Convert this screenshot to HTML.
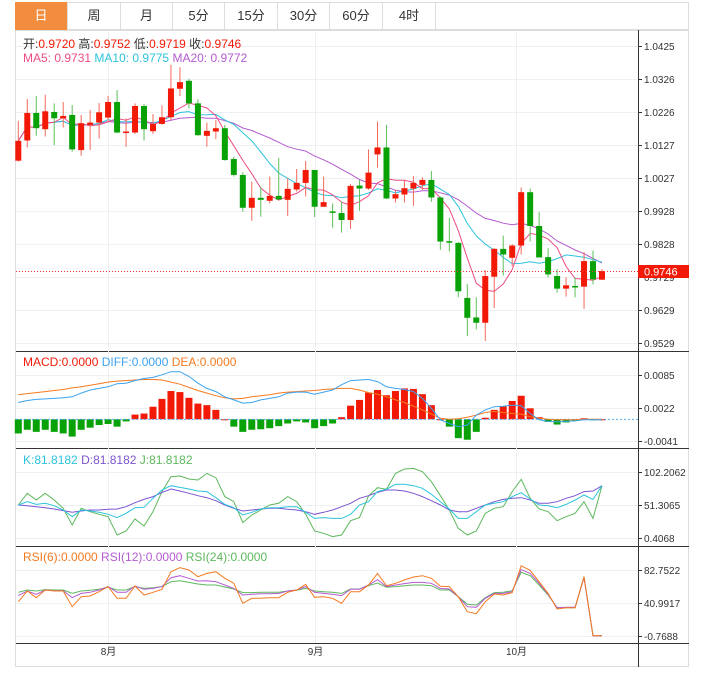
<!DOCTYPE html>
<html><head><meta charset="utf-8"><style>
body{margin:0;background:#fff;font-family:"Liberation Sans","Noto Sans CJK SC",sans-serif;}
#wrap{position:relative;width:702px;height:674px;overflow:hidden;}
.tab{position:absolute;top:2px;height:28px;line-height:28px;text-align:center;font-size:13px;color:#333;border-right:1px solid #ddd;box-sizing:border-box;cursor:pointer}
svg text{font-family:"Liberation Sans","Noto Sans CJK SC",sans-serif;}
</style></head><body>
<div id="wrap">
<div style="position:absolute;left:15px;top:2px;width:674px;height:28px;border:1px solid #ddd;box-sizing:border-box"></div>
<div class="tab" style="left:15px;width:53px;background:#F28C3F;color:#fff">日</div>
<div class="tab" style="left:68px;width:53px">周</div>
<div class="tab" style="left:121px;width:52px">月</div>
<div class="tab" style="left:173px;width:52px">5分</div>
<div class="tab" style="left:225px;width:53px">15分</div>
<div class="tab" style="left:278px;width:52px">30分</div>
<div class="tab" style="left:330px;width:53px">60分</div>
<div class="tab" style="left:383px;width:53px">4时</div>
<svg id="svg" width="702" height="674" style="position:absolute;left:0;top:0"></svg>
</div>
<script>
const opens=[1.0079,1.0140,1.0223,1.0174,1.0226,1.0207,1.0217,1.0111,1.0187,1.0194,1.0209,1.0256,1.0163,1.0164,1.0244,1.0168,1.0190,1.0210,1.0296,1.0320,1.0252,1.0154,1.0167,1.0177,1.0084,1.0036,0.9937,0.9967,0.9958,0.9973,0.9961,0.9992,1.0012,1.0051,0.9940,0.9926,0.9921,0.9900,1.0004,0.9995,1.0098,1.0119,0.9965,0.9977,0.9995,1.0006,1.0021,0.9968,0.9836,0.9831,0.9665,0.9606,0.9590,0.9729,0.9813,0.9786,0.9823,0.9984,0.9882,0.9788,0.9731,0.9693,0.9701,0.9699,0.9776,0.9720];
const highs=[1.0199,1.0265,1.0274,1.0278,1.0252,1.0256,1.0247,1.0217,1.0232,1.0253,1.0274,1.0292,1.0207,1.0252,1.0250,1.0220,1.0246,1.0368,1.0361,1.0326,1.0264,1.0194,1.0202,1.0187,1.0091,1.0044,1.0016,1.0001,1.0031,1.0088,1.0026,1.0054,1.0078,1.0051,1.0031,0.9950,0.9955,1.0009,1.0021,1.0113,1.0197,1.0187,0.9991,1.0019,1.0033,1.0029,1.0048,0.9971,0.9907,0.9833,0.9707,0.9667,0.9749,0.9815,0.9853,0.9827,0.9998,0.9995,0.9924,0.9815,0.9752,0.9727,0.9727,0.9803,0.9808,0.9752];
const lows=[1.0076,1.0119,1.0154,1.0152,1.0126,1.0179,1.0106,1.0094,1.0111,1.0146,1.0197,1.0162,1.0121,1.0160,1.0140,1.0160,1.0187,1.0202,1.0274,1.0237,1.0154,1.0121,1.0144,1.0079,1.0031,0.9925,0.9898,0.9910,0.9950,0.9960,0.9912,0.9986,0.9971,0.9909,0.9940,0.9877,0.9862,0.9873,0.9928,0.9991,1.0058,0.9963,0.9953,0.9953,0.9943,0.9991,0.9955,0.9810,0.9805,0.9667,0.9550,0.9570,0.9535,0.9634,0.9732,0.9761,0.9796,0.9835,0.9787,0.9727,0.9681,0.9669,0.9667,0.9632,0.9706,0.9719];
const closes=[1.0139,1.0223,1.0177,1.0228,1.0207,1.0214,1.0113,1.0192,1.0194,1.0225,1.0256,1.0164,1.0167,1.0244,1.0174,1.0190,1.0210,1.0297,1.0316,1.0252,1.0156,1.0169,1.0177,1.0081,1.0036,0.9937,0.9967,0.9961,0.9973,0.9962,0.9994,1.0012,1.0051,0.9940,0.9954,0.9924,0.9900,1.0003,0.9995,1.0043,1.0119,0.9965,0.9978,0.9996,1.0012,1.0021,0.9968,0.9835,0.9832,0.9685,0.9605,0.9590,0.9731,0.9813,0.9796,0.9823,0.9984,0.9882,0.9787,0.9736,0.9693,0.9703,0.9699,0.9776,0.9721,0.9746];
const macdHist=[-0.0027,-0.0020,-0.0024,-0.0020,-0.0024,-0.0027,-0.0033,-0.0020,-0.0016,-0.0011,-0.0009,-0.0014,-0.0004,0.0009,0.0011,0.0024,0.0039,0.0054,0.0052,0.0041,0.0030,0.0027,0.0018,0,-0.0014,-0.0024,-0.0020,-0.0019,-0.0017,-0.0013,-0.0008,-0.0004,-0.0006,-0.0017,-0.0013,-0.0008,0.0004,0.0026,0.0037,0.0051,0.0056,0.0046,0.0054,0.0059,0.0058,0.0048,0.0027,0,-0.0014,-0.0036,-0.0039,-0.0024,0.0003,0.0018,0.0025,0.0035,0.0045,0.0021,0.0004,-0.0005,-0.0010,-0.0006,-0.0003,0.0002,-0.0002,0];
const difVals=[0.0032,0.0036,0.0038,0.0039,0.0040,0.0041,0.0043,0.0050,0.0056,0.0059,0.0062,0.0068,0.0069,0.0074,0.0078,0.0080,0.0085,0.0091,0.0091,0.0082,0.0069,0.0059,0.0053,0.0043,0.0037,0.0031,0.0032,0.0037,0.0040,0.0043,0.0050,0.0052,0.0052,0.0048,0.0052,0.0056,0.0066,0.0074,0.0075,0.0076,0.0072,0.0062,0.0059,0.0057,0.0053,0.0040,0.0021,-0.0001,-0.0008,-0.0014,-0.0011,0.0008,0.0018,0.0024,0.0025,0.0027,0.0026,0.0011,-0.0001,-0.0004,-0.0005,-0.0004,-0.0003,-0.0001,-0.0001,-0.0001];
const deaVals=[0.0047,0.0049,0.0051,0.0053,0.0055,0.0057,0.0060,0.0062,0.0065,0.0068,0.0071,0.0073,0.0074,0.0075,0.0076,0.0076,0.0075,0.0071,0.0067,0.0061,0.0055,0.0050,0.0045,0.0041,0.0039,0.0040,0.0043,0.0045,0.0047,0.0050,0.0052,0.0053,0.0054,0.0055,0.0057,0.0058,0.0059,0.0059,0.0056,0.0051,0.0048,0.0043,0.0037,0.0032,0.0025,0.0018,0.0010,0.0002,0,0.0001,0.0004,0.0008,0.0013,0.0015,0.0013,0.0011,0.0010,0.0005,0.0002,0,-0.0001,-0.0001,-0.0001,0,0,0];
const kVals=[51.3,56.4,52.3,53.9,50.3,43.6,33.3,43.6,42.0,40.0,36.9,31.8,38.5,47.2,47.7,61.6,74.4,81.1,78.5,76.0,72.9,71.9,62.6,52.3,47.2,35.9,40.0,45.1,47.2,47.2,48.7,48.7,40.0,30.7,31.8,30.7,30.7,36.9,51.3,56.4,71.9,75.5,83.2,83.2,81.1,77.0,67.8,56.4,45.1,30.7,30.7,41.0,51.3,53.9,56.4,64.2,70.3,60.6,51.3,50.3,47.2,52.3,59.0,66.7,60.0,81.1];
const dVals=[51.3,50.3,48.7,47.2,45.1,42.6,40.0,42.0,43.6,43.6,44.6,45.1,48.7,54.9,60.0,64.2,70.8,76.0,72.9,69.3,65.7,62.6,58.0,51.3,46.2,42.0,43.6,45.1,46.2,46.2,44.6,43.6,41.0,36.9,40.0,43.6,48.7,53.9,61.6,65.7,70.8,74.4,74.4,72.9,69.3,64.2,58.0,51.3,43.6,41.0,41.0,46.2,51.3,56.4,60.0,61.6,62.6,59.0,53.9,53.9,56.4,61.6,65.7,71.9,72.9,81.1];
const jVals=[51.3,69.3,59.0,69.3,59.0,46.2,20.5,46.2,41.0,36.9,33.3,5.0,11.2,29.7,18.9,41.0,71.9,95.0,96.0,91.4,89.9,100.1,93.4,64.2,56.4,24.1,35.9,43.6,51.3,53.9,64.2,56.4,36.9,11.2,7.6,2.5,5.0,27.1,31.8,65.2,78.0,75.5,100.1,106.8,107.8,102.7,87.3,65.7,43.6,15.3,5.0,11.2,38.5,46.2,48.7,71.9,90.9,61.6,45.1,41.0,27.1,33.3,38.5,56.4,30.7,81.1];
const rsi6=[42.7,56.2,47.7,57.4,56.2,56.2,36.3,49.0,49.8,55.3,61.7,46.9,46.9,62.5,51.1,54.5,58.3,80.6,85.7,82.7,74.3,78.5,80.6,72.2,65.9,40.6,46.9,46.9,47.7,47.7,54.5,57.4,64.6,48.2,49.0,46.9,40.6,55.3,55.3,63.8,78.5,62.9,65.9,70.1,73.9,75.6,72.2,62.1,61.7,49.0,30.0,27.5,42.7,52.4,51.1,54.1,88.2,82.3,68.0,53.2,33.4,35.1,35.1,74.3,-0.5,-0.5];
const rsi12=[50.3,56.2,52.0,57.4,56.6,56.6,47.7,53.2,54.5,57.4,61.7,54.5,54.5,62.5,58.3,59.5,61.7,73.0,75.6,72.2,68.8,69.2,68.0,63.8,59.5,51.1,52.0,52.8,52.8,53.2,56.2,57.4,61.7,54.5,53.2,52.0,50.3,58.3,58.3,63.8,70.5,61.7,63.8,65.5,67.1,67.1,65.9,59.5,58.7,49.0,36.3,35.5,46.9,53.2,53.2,55.3,83.2,78.5,65.9,52.0,35.1,35.5,35.5,73.0,-0.5,-0.5];
const rsi24=[54.5,57.4,56.2,57.9,57.4,57.4,53.2,56.2,57.0,58.3,60.8,57.4,57.4,61.7,59.5,60.4,61.7,68.0,69.2,67.1,65.0,63.8,63.8,61.2,58.7,54.1,54.1,54.5,54.5,54.5,56.2,57.0,59.5,56.2,55.3,54.5,53.2,58.7,58.7,62.9,66.3,60.8,61.7,62.9,63.8,63.8,62.9,57.4,57.4,49.0,39.3,38.5,47.7,54.1,54.5,56.6,79.8,75.6,63.8,51.1,35.1,35.1,35.1,74.3,-0.5,-0.5];
const priceTicks=[1.0425,1.0326,1.0226,1.0127,1.0027,0.9928,0.9828,0.9729,0.9629,0.9529];
const macdTicks=[0.0085,0.0022,-0.0041];
const kdjTicks=[102.2062,51.3065,0.4068];
const rsiTicks=[82.7522,40.9917,-0.7688];
const monthLabels=["8月","9月","10月"];
const monthIndex=[10,33,55.4];

const svg=document.getElementById('svg');
const NS='http://www.w3.org/2000/svg';
function mk(tag,attrs,parent){const e=document.createElementNS(NS,tag);for(const k in attrs)e.setAttribute(k,attrs[k]);(parent||svg).appendChild(e);return e;}
const L=16,R=638;
const xs=i=>18.3+i*8.98;
const py=p=>46+(1.0425-p)/0.0896*297;
const my=v=>419.3-v/0.000191;
const ky=v=>538-(v-0.4068)/101.7994*66;
const ry=v=>636-(v+0.7688)/83.521*66;

let g;
g=mk('rect',{x:15.5,y:30.5,width:673,height:636,fill:'none',stroke:'#ddd'});


g=mk('line',{x1:638.5,y1:30,x2:638.5,y2:667,stroke:'#333'});


[351.5,448.5,546.5,643.5].forEach(y=>{const l=mk('line',{x1:16,y1:y,x2:689,y2:y,stroke:'#333'});

});
monthIndex.forEach((mi,k)=>{const x=Math.round(xs(mi))+0.5;
const l=mk('line',{x1:x,y1:31,x2:x,y2:643,stroke:'#eef1f4'});


const t=mk('text',{x:x,y:655,'font-size':10,'text-anchor':'middle',fill:'#333'});t.textContent=monthLabels[k];

});
function tick(y,label,nm){y=Math.round(y)+0.5;
const l=mk('line',{x1:L,y1:y,x2:R,y2:y,stroke:'#eef1f4'});


mk('line',{x1:638,y1:y,x2:642,y2:y,stroke:'#333'});
const t=mk('text',{x:644,y:y+3.5,'font-size':10,fill:'#333'});t.textContent=label;

}
priceTicks.forEach(p=>tick(py(p),p.toFixed(4),'price'));
macdTicks.forEach(v=>tick(my(v),v.toFixed(4),'macd'));
kdjTicks.forEach(v=>tick(ky(v),v.toFixed(4),'kdj'));
rsiTicks.forEach(v=>tick(ry(v),v.toFixed(4),'rsi'));
function line(arr,f,c,nm){const pl=mk('polyline',{points:arr.map((v,i)=>xs(i).toFixed(1)+','+f(v).toFixed(1)).join(' '),fill:'none',stroke:c,'stroke-width':1});

}
function ma(n){return closes.map((c,i)=>{const s=closes.slice(Math.max(0,i-n+1),i+1);return s.reduce((a,b)=>a+b,0)/s.length;});}
line(ma(20),py,'#B45BD0','ma20-line');
line(ma(10),py,'#2DC3DC','ma10-line');
line(ma(5),py,'#EC4C86','ma5-line');
closes.forEach((c,i)=>{const o=opens[i],up=c>=o,col=up?'#F21A07':'#08A106';const x=xs(i);
const w=mk('line',{x1:x,y1:py(highs[i]),x2:x,y2:py(lows[i]),stroke:up?'#F46a5a':'#5cc05a','stroke-width':1});


const top=py(Math.max(o,c)),h=Math.max(1.5,Math.abs(py(o)-py(c)));
const b=mk('rect',{x:x-3,y:top,width:6,height:h,fill:col});

});
const lp=closes[closes.length-1],ly=Math.round(py(lp))+0.5;
g=mk('line',{x1:L,y1:ly,x2:R,y2:ly,stroke:'#e33','stroke-dasharray':'1,2'});


g=mk('rect',{x:638,y:ly-6.5,width:51,height:13,fill:'#F21A07'});


g=mk('text',{x:644,y:ly+4,'font-size':11,fill:'#fff'});g.textContent=lp.toFixed(4);
function legend(y,items,nm){const t=mk('text',{x:23,y:y,'font-size':12});t.setAttribute('xml:space','preserve');items.forEach(([s,c])=>{const ts=mk('tspan',{fill:c},t);ts.textContent=s;});

}
legend(48,[['开:','#333'],['0.9720  ','#F21A07'],['高:','#333'],['0.9752  ','#F21A07'],['低:','#333'],['0.9719  ','#F21A07'],['收:','#333'],['0.9746','#F21A07']],'ohlc-legend');
legend(62,[['MA5: 0.9731  ','#EC4C86'],['MA10: 0.9775  ','#2DC3DC'],['MA20: 0.9772','#B45BD0']],'ma-legend');
legend(366,[['MACD:0.0000  ','#F21A07'],['DIFF:0.0000  ','#3BA3F0'],['DEA:0.0000','#F47A20']],'macd-legend');
legend(464,[['K:81.8182  ','#2DC3DC'],['D:81.8182  ','#7B55D0'],['J:81.8182','#5DB85D']],'kdj-legend');
legend(561,[['RSI(6):0.0000  ','#F47A20'],['RSI(12):0.0000  ','#B45BD0'],['RSI(24):0.0000','#5DB85D']],'rsi-legend');
macdHist.forEach((h,i)=>{const y0=my(0),y1=my(h);const r=mk('rect',{x:xs(i)-3.5,y:Math.min(y0,y1),width:7,height:Math.max(1,Math.abs(y1-y0)),fill:h>=0?'#F21A07':'#08A106'});

});
g=mk('line',{x1:L,y1:419.3,x2:R,y2:419.3,stroke:'#3BA3F0','stroke-dasharray':'2,2','stroke-width':0.8});


line(deaVals,my,'#F47A20','dea-line');
line(difVals,my,'#3BA3F0','diff-line');
line(jVals,ky,'#5DB85D','j-line');
line(dVals,ky,'#7B55D0','d-line');
line(kVals,ky,'#2DC3DC','k-line');
line(rsi24,ry,'#5DB85D','rsi24-line');
line(rsi12,ry,'#B45BD0','rsi12-line');
line(rsi6,ry,'#F47A20','rsi6-line');
</script>
</body></html>
